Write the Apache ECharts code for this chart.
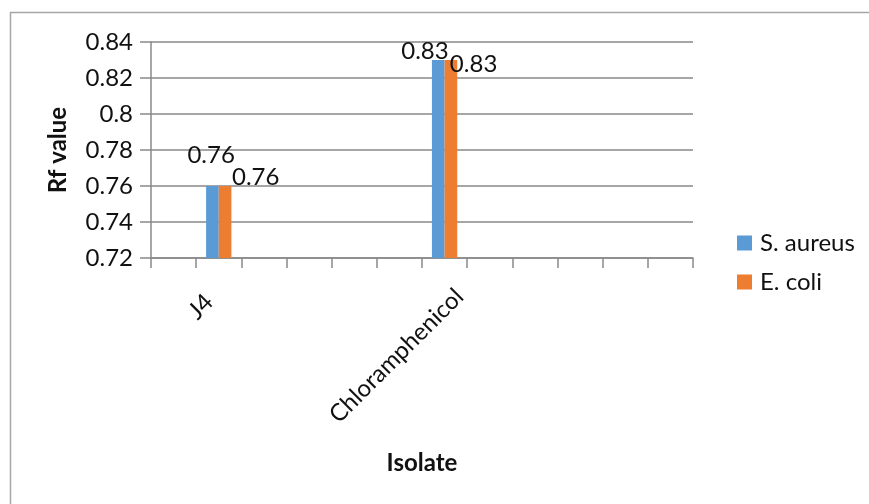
<!DOCTYPE html>
<html>
<head>
<meta charset="utf-8">
<script src="https://cdn.jsdelivr.net/npm/echarts@6/dist/echarts.min.js"></script>
<style>
  html, body { margin: 0; padding: 0; background: #fff; }
  #chart { width: 869px; height: 504px; }
</style>
</head>
<body>
<div id="chart"></div>
<script>
// Category slots along the isolate axis (only two are named)
const categories = ['', 'J4', '', '', '', '', 'Chloramphenicol', '', '', '', '', ''];
// Rf values per organism
const sAureus = [null, 0.76, null, null, null, null, 0.83, null, null, null, null, null];
const eColi   = [null, 0.76, null, null, null, null, 0.83, null, null, null, null, null];
// Value axis range
const yMin = 0.72, yMax = 0.84, yStep = 0.02;

const FONT = 'Lato';
const FS = 24;
const TXT = '#111';

// Where each value label sits relative to the top-left corner of its bar
const labelSpots = {
  'S. aureus': { 1: [5, -31], 6: [-7, -9] },
  'E. coli':   { 1: [37, -9], 6: [29, 4.5] }
};

function makeData(name, values) {
  return values.map((v, i) => {
    if (v == null) return null;
    return {
      value: v,
      label: {
        show: true,
        position: labelSpots[name][i],
        align: 'center',
        verticalAlign: 'middle',
        formatter: p => String(p.value),
        fontFamily: FONT,
        fontSize: FS,
        color: TXT
      }
    };
  });
}

const chart = echarts.init(document.getElementById('chart'), null, { renderer: 'canvas' });

chart.setOption({
  animation: false,
  backgroundColor: '#fff',
  textStyle: { fontFamily: FONT },
  color: ['#5B9BD5', '#ED7D31'],
  graphic: [{
    type: 'rect',
    shape: { x: 10.5, y: 12.5, width: 900, height: 600 },
    style: { fill: 'none', stroke: '#a6a6a6', lineWidth: 1.5 },
    silent: true,
    z: -10
  }],
  grid: { left: 151, right: 176, top: 42, bottom: 246, containLabel: false },
  legend: {
    orient: 'vertical',
    left: 732,
    top: 226,
    itemWidth: 15,
    itemHeight: 15,
    itemGap: 15,
    icon: 'rect',
    textStyle: { fontFamily: FONT, fontSize: FS, color: TXT, padding: [0, 0, 0, 3] },
    data: ['S. aureus', 'E. coli']
  },
  xAxis: {
    type: 'category',
    data: categories,
    boundaryGap: true,
    name: 'Isolate',
    nameLocation: 'middle',
    nameGap: 193,
    nameTextStyle: { fontFamily: FONT, fontSize: FS, fontWeight: 'bold', color: TXT },
    axisLine: { lineStyle: { color: '#898989', width: 1.5 } },
    axisTick: { show: true, length: 10, interval: 0, lineStyle: { color: '#898989', width: 1.5 } },
    axisLabel: {
      interval: 0,
      rotate: 45,
      margin: 20,
      fontFamily: FONT,
      fontSize: FS,
      color: TXT,
      formatter: v => v === 'J4' ? '{j|' + v + '}' : (v ? '{c|' + v + '}' : ''),
      rich: {
        j: { fontFamily: FONT, fontSize: FS, color: TXT, padding: [15, 21, 0, 0] },
        c: { fontFamily: FONT, fontSize: FS, color: TXT, padding: [42, 0, 0, 0] }
      }
    },
    splitLine: { show: false }
  },
  yAxis: {
    type: 'value',
    min: yMin,
    max: yMax,
    interval: yStep,
    name: 'Rf value',
    nameLocation: 'middle',
    nameGap: 81,
    nameRotate: 90,
    nameTextStyle: { fontFamily: FONT, fontSize: FS, fontWeight: 'bold', color: TXT },
    axisLine: { show: true, lineStyle: { color: '#898989', width: 1.5 } },
    axisTick: { show: true, length: 11, lineStyle: { color: '#898989', width: 1.5 } },
    axisLabel: {
      margin: 18,
      fontFamily: FONT,
      fontSize: FS,
      color: TXT,
      formatter: v => String(+v.toFixed(2))
    },
    splitLine: { show: true, lineStyle: { color: '#898989', width: 1.5 } }
  },
  series: [
    {
      name: 'S. aureus',
      type: 'bar',
      data: makeData('S. aureus', sAureus),
      barGap: '0%',
      barCategoryGap: '44%'
    },
    {
      name: 'E. coli',
      type: 'bar',
      data: makeData('E. coli', eColi),
      barGap: '0%',
      barCategoryGap: '44%'
    }
  ]
});
</script>
</body>
</html>
